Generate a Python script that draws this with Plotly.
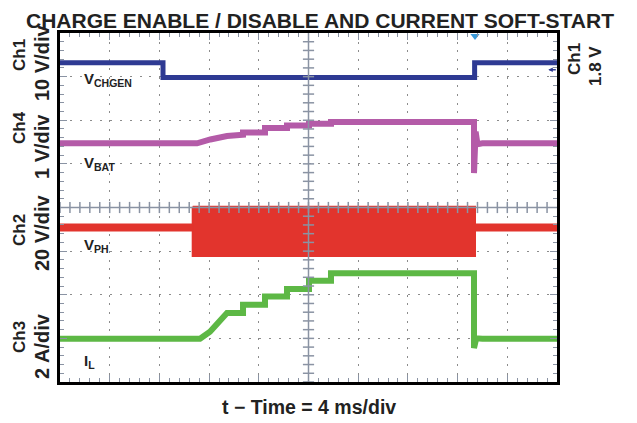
import numpy as np
import plotly.graph_objects as go

# ---- data (time in ms, amplitude in screen divisions, centre = 0) ----
chgen_t = [-20, -11.71, -11.71, 13.37, 13.37, 20]
chgen_v = [3.32, 3.32, 2.98, 2.98, 3.32, 3.32]

vbat_t = [-20, -8.97, -7.9, -6.56, -5.27, -5.27, -3.50, -3.50, -1.73, -1.73, 0.04, 0.04, 1.81, 1.81,
          13.32, 13.32, 13.45, 13.6, 14.0, 20]
vbat_v = [1.47, 1.47, 1.56, 1.64, 1.67, 1.72, 1.72, 1.82, 1.82, 1.88, 1.88, 1.92, 1.92, 1.96,
          1.96, 0.79, 1.74, 1.45, 1.47, 1.47]

vph_t1 = [-20, -9.32]
vph_v1 = [-0.46, -0.46]
vph_t2 = [13.40, 20]
vph_v2 = [-0.46, -0.46]
burst_t = [-9.32, 13.40]
burst_hi = 0.02
burst_lo = -1.11

il_t = [-20, -8.73, -7.93, -7.12, -6.56, -5.27, -5.27, -3.50, -3.50, -1.73, -1.73, 0.04, 0.04, 1.81, 1.81,
        13.32, 13.32, 13.5, 14.0, 20]
il_v = [-3.01, -3.01, -2.85, -2.62, -2.42, -2.42, -2.23, -2.23, -2.04, -2.04, -1.87, -1.87, -1.68, -1.68, -1.51,
        -1.51, -3.22, -3.0, -3.01, -3.01]

left_names = ["Ch1", "Ch4", "Ch2", "Ch3"]
left_scales = ["10 V/div", "1 V/div", "20 V/div", "2 A/div"]
trace_labels = ["V<sub>CHGEN</sub>", "V<sub>BAT</sub>", "V<sub>PH</sub>", "I<sub>L</sub>"]

BLUE = "#2e3a93"
MAG = "#b45ba8"
RED = "#e2342d"
GREEN = "#5db845"
GRIDC = "#8a93a3"
FONT = "Liberation Sans, Arial, sans-serif"

fig = go.Figure()

# VPH burst (switching region)
fig.add_trace(go.Scatter(
    x=[burst_t[0], burst_t[1], burst_t[1], burst_t[0], burst_t[0]],
    y=[burst_hi, burst_hi, burst_lo, burst_lo, burst_hi],
    fill="toself", fillcolor=RED, mode="lines", line=dict(color=RED, width=2),
    hoverinfo="skip", showlegend=False))
fig.add_trace(go.Scatter(x=vph_t1, y=vph_v1, mode="lines", line=dict(color=RED, width=8), showlegend=False))
fig.add_trace(go.Scatter(x=vph_t2, y=vph_v2, mode="lines", line=dict(color=RED, width=8), showlegend=False))

fig.add_trace(go.Scatter(x=chgen_t, y=chgen_v, mode="lines", line=dict(color=BLUE, width=5), showlegend=False))
fig.add_trace(go.Scatter(x=vbat_t, y=vbat_v, mode="lines", line=dict(color=MAG, width=6), showlegend=False))
fig.add_trace(go.Scatter(x=il_t, y=il_v, mode="lines", line=dict(color=GREEN, width=6), showlegend=False))

# centre cross ticks
xt = np.arange(-20, 20.01, 0.8)
yt = np.arange(-4, 4.01, 0.2)
fig.add_trace(go.Scatter(x=xt, y=[0] * len(xt), mode="markers",
                         marker=dict(symbol="line-ns", size=8, line=dict(color=GRIDC, width=1.5)),
                         hoverinfo="skip", showlegend=False, cliponaxis=False))
fig.add_trace(go.Scatter(x=[0] * len(yt), y=yt, mode="markers",
                         marker=dict(symbol="line-ew", size=8, line=dict(color=GRIDC, width=1.5)),
                         hoverinfo="skip", showlegend=False, cliponaxis=False))
# trigger marker at top
fig.add_trace(go.Scatter(x=[13.4], y=[3.93], mode="markers",
                         marker=dict(symbol="triangle-down", size=8, color="#3a9ad9"),
                         hoverinfo="skip", showlegend=False, cliponaxis=False))

fig.add_shape(type="line", x0=0, x1=0, y0=-4, y1=4, line=dict(color=GRIDC, width=1.5), layer="above")
fig.add_shape(type="line", x0=-20, x1=20, y0=0, y1=0, line=dict(color=GRIDC, width=1.5), layer="above")

fig.update_xaxes(range=[-20, 20], showgrid=True, dtick=4, tick0=-20, gridcolor="#8c8c8c", griddash="2px,6.72px",
                 gridwidth=1, zeroline=False, showline=True, linecolor="black", linewidth=3, mirror="ticks",
                 ticks="inside", ticklen=7, tickcolor=GRIDC, tickwidth=1, showticklabels=False,
                 minor=dict(dtick=0.8, ticks="inside", ticklen=4, tickcolor=GRIDC, showgrid=False))
fig.update_yaxes(range=[-4, 4], showgrid=True, dtick=1, tick0=-4, gridcolor="#8c8c8c", griddash="2px,7.94px",
                 gridwidth=1, zeroline=False, showline=True, linecolor="black", linewidth=3, mirror="ticks",
                 ticks="inside", ticklen=7, tickcolor=GRIDC, tickwidth=1, showticklabels=False,
                 minor=dict(dtick=0.2, ticks="inside", ticklen=4, tickcolor=GRIDC, showgrid=False))

ann = []
# the page body adds an 8 px offset; plot area lands on screen at x 60..557, y 33..382
PX0, PW, PY0, PH = 60, 497, 33, 349
def px(x):
    return (x - PX0) / PW
def py(y):
    return (PY0 + PH - y) / PH

TXT = dict(family=FONT, size=17, color="#222")
TXT2 = dict(family=FONT, size=20, color="#222")
name_y = [55, 128, 230, 337]
scale_y = [63, 147, 233, 346]
for n, s, yn, ys in zip(left_names, left_scales, name_y, scale_y):
    ann.append(dict(text="<b>%s</b>" % n, x=px(19), y=py(yn), xref="paper", yref="paper",
                    xanchor="center", yanchor="middle",
                    textangle=-90, showarrow=False, font=TXT))
    ann.append(dict(text="<b>%s</b>" % s, x=px(42), y=py(ys), xref="paper", yref="paper",
                    xanchor="center", yanchor="middle",
                    textangle=-90, showarrow=False, font=TXT2))
# right label
ann.append(dict(text="<b>Ch1</b>", x=px(575), y=py(59), xref="paper", yref="paper",
                xanchor="center", yanchor="middle",
                textangle=-90, showarrow=False, font=TXT))
ann.append(dict(text="<b>1.8 V</b>", x=px(595), y=py(66), xref="paper", yref="paper",
                xanchor="center", yanchor="middle",
                textangle=-90, showarrow=False, font=TXT))
# trace labels
lab_y = [80, 163, 245, 361]
for t, yy in zip(trace_labels, lab_y):
    ann.append(dict(text="<b>%s</b>" % t, x=px(82), y=py(yy), xref="paper", yref="paper",
                    xanchor="left", yanchor="middle", showarrow=False,
                    font=dict(family=FONT, size=15, color="#222")))
# x title
ann.append(dict(text="<b>t \u2212 Time = 4 ms/div</b>", x=px(308.5), y=py(407), xref="paper", yref="paper",
                xanchor="center", yanchor="middle",
                showarrow=False, font=dict(family=FONT, size=19.5, color="#222")))
# title as annotation centred over the screen position of the reference
ann.append(dict(text="<b>CHARGE ENABLE / DISABLE AND CURRENT SOFT-START</b>", x=px(320), y=py(20),
                xref="paper", yref="paper", xanchor="center", yanchor="middle", showarrow=False,
                font=dict(family=FONT, size=21, color="#222")))
# channel level arrow on right
ann.append(dict(x=19.3, y=3.16, ax=9, ay=0, xref="x", yref="y", text="", showarrow=True,
                arrowhead=2, arrowsize=0.6, arrowwidth=1.5, arrowcolor=BLUE))

fig.update_layout(
    width=637, height=423, margin=dict(l=52, r=88, t=25, b=49),
    paper_bgcolor="white", plot_bgcolor="white",
    annotations=ann, showlegend=False)

fig.write_html("out.html")
